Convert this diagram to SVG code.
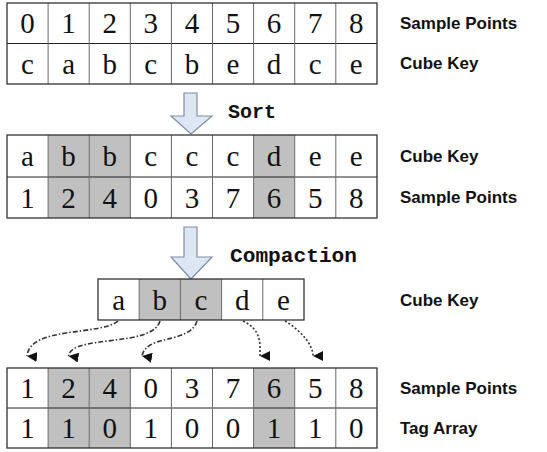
<svg xmlns="http://www.w3.org/2000/svg" width="547" height="452" viewBox="0 0 547 452">
  <style>
    .cell { fill: #ffffff; }
    .hl { fill: #c0c0c0; }
    .frame { fill: none; stroke: #222222; stroke-width: 1.2; }
    .vline { stroke: #6a6a6a; stroke-width: 1; }
    .hline { stroke: #222222; stroke-width: 1; }
    .val { font-family: "Liberation Serif", "Times New Roman", serif; font-size: 29px; fill: #111111; text-anchor: middle; }
    .label { font-family: "Liberation Sans", Arial, sans-serif; font-weight: bold; font-size: 17px; fill: #111111; }
    .step { font-family: "Liberation Mono", "Courier New", monospace; font-weight: bold; font-size: 20px; fill: #111111; }
    .bigarrow { fill: #dde7f3; stroke: #7f8ea3; stroke-width: 1.2; }
    .link { fill: none; stroke: #333333; stroke-width: 1.6; }
    .dashdot { stroke-dasharray: 5 2 1.5 2; }
    .dotted { stroke-dasharray: 2 2; }
  </style>
  <defs>
    <marker id="tip" viewBox="0 0 10 10" refX="5" refY="10" markerWidth="10" markerHeight="10" markerUnits="userSpaceOnUse" orient="auto-start-reverse">
      <path d="M0,0 L10,0 L5,10 Z" fill="#111111"/>
    </marker>
  </defs>

  <!-- original order: sample point index and cube key -->
  <g id="input-table">
    <rect class="cell" x="7" y="3" width="370" height="81"/>
    <line class="hline" x1="7" y1="43.5" x2="377" y2="43.5"/>
    <g>
      <line class="vline" x1="48.1" y1="3" x2="48.1" y2="84"/>
      <line class="vline" x1="89.2" y1="3" x2="89.2" y2="84"/>
      <line class="vline" x1="130.3" y1="3" x2="130.3" y2="84"/>
      <line class="vline" x1="171.4" y1="3" x2="171.4" y2="84"/>
      <line class="vline" x1="212.5" y1="3" x2="212.5" y2="84"/>
      <line class="vline" x1="253.6" y1="3" x2="253.6" y2="84"/>
      <line class="vline" x1="294.7" y1="3" x2="294.7" y2="84"/>
      <line class="vline" x1="335.8" y1="3" x2="335.8" y2="84"/>
    </g>
    <rect class="frame" x="7" y="3" width="370" height="81"/>
    <g class="val">
      <text x="27.5" y="33">0</text><text x="68.6" y="33">1</text><text x="109.7" y="33">2</text>
      <text x="150.8" y="33">3</text><text x="192" y="33">4</text><text x="233" y="33">5</text>
      <text x="274.1" y="33">6</text><text x="315.2" y="33">7</text><text x="356.3" y="33">8</text>
      <text x="27.5" y="73.5">c</text><text x="68.6" y="73.5">a</text><text x="109.7" y="73.5">b</text>
      <text x="150.8" y="73.5">c</text><text x="192" y="73.5">b</text><text x="233" y="73.5">e</text>
      <text x="274.1" y="73.5">d</text><text x="315.2" y="73.5">c</text><text x="356.3" y="73.5">e</text>
    </g>
    <text class="label" x="400" y="29">Sample Points</text>
    <text class="label" x="400" y="69">Cube Key</text>
  </g>

  <!-- sort step -->
  <g id="sort-step">
    <polygon class="bigarrow" points="184,93 197,93 197,116 212,116 191,134 171,116 184,116"/>
    <text class="step" x="228" y="118" textLength="48" lengthAdjust="spacingAndGlyphs">Sort</text>
  </g>

  <!-- sorted keys with their sample points -->
  <g id="sorted-table">
    <rect class="cell" x="7" y="135" width="370" height="83"/>
    <rect class="hl" x="48.1" y="135" width="82.2" height="83"/>
    <rect class="hl" x="253.6" y="135" width="41.1" height="83"/>
    <line class="hline" x1="7" y1="177" x2="377" y2="177"/>
    <g>
      <line class="vline" x1="48.1" y1="135" x2="48.1" y2="218"/>
      <line class="vline" x1="89.2" y1="135" x2="89.2" y2="218"/>
      <line class="vline" x1="130.3" y1="135" x2="130.3" y2="218"/>
      <line class="vline" x1="171.4" y1="135" x2="171.4" y2="218"/>
      <line class="vline" x1="212.5" y1="135" x2="212.5" y2="218"/>
      <line class="vline" x1="253.6" y1="135" x2="253.6" y2="218"/>
      <line class="vline" x1="294.7" y1="135" x2="294.7" y2="218"/>
      <line class="vline" x1="335.8" y1="135" x2="335.8" y2="218"/>
    </g>
    <rect class="frame" x="7" y="135" width="370" height="83"/>
    <g class="val">
      <text x="27.5" y="166">a</text><text x="68.6" y="166">b</text><text x="109.7" y="166">b</text>
      <text x="150.8" y="166">c</text><text x="192" y="166">c</text><text x="233" y="166">c</text>
      <text x="274.1" y="166">d</text><text x="315.2" y="166">e</text><text x="356.3" y="166">e</text>
      <text x="27.5" y="207.5">1</text><text x="68.6" y="207.5">2</text><text x="109.7" y="207.5">4</text>
      <text x="150.8" y="207.5">0</text><text x="192" y="207.5">3</text><text x="233" y="207.5">7</text>
      <text x="274.1" y="207.5">6</text><text x="315.2" y="207.5">5</text><text x="356.3" y="207.5">8</text>
    </g>
    <text class="label" x="400" y="162">Cube Key</text>
    <text class="label" x="400" y="203">Sample Points</text>
  </g>

  <!-- compaction step -->
  <g id="compaction-step">
    <polygon class="bigarrow" points="184,227 197,227 197,257 212,257 191,279 171,257 184,257"/>
    <text class="step" x="230" y="262" textLength="127" lengthAdjust="spacingAndGlyphs">Compaction</text>
  </g>

  <!-- unique cube keys -->
  <g id="unique-keys">
    <rect class="cell" x="98" y="279" width="206" height="41"/>
    <rect class="hl" x="139.2" y="279" width="82.4" height="41"/>
    <g>
      <line class="vline" x1="139.2" y1="279" x2="139.2" y2="320"/>
      <line class="vline" x1="180.4" y1="279" x2="180.4" y2="320"/>
      <line class="vline" x1="221.6" y1="279" x2="221.6" y2="320"/>
      <line class="vline" x1="262.8" y1="279" x2="262.8" y2="320"/>
    </g>
    <rect class="frame" x="98" y="279" width="206" height="41"/>
    <g class="val">
      <text x="118.6" y="309.5">a</text><text x="159.8" y="309.5">b</text><text x="201" y="309.5">c</text>
      <text x="242.2" y="309.5">d</text><text x="283.4" y="309.5">e</text>
    </g>
    <text class="label" x="400" y="306">Cube Key</text>
  </g>

  <!-- key-to-first-occurrence links -->
  <g id="connectors">
    <path class="link dashdot" d="M118,321 C100,336 30,326 27,356" marker-end="url(#tip)"/>
    <path class="link dashdot" d="M160,321 C152,348 72,334 68.5,356" marker-end="url(#tip)"/>
    <path class="link dashdot" d="M197,321 C190,344 146,334 142,356" marker-end="url(#tip)"/>
    <path class="link dotted" d="M243,321 C262,330 260,344 260,356" marker-end="url(#tip)"/>
    <path class="link dotted" d="M285,321 C300,330 313,344 313,356" marker-end="url(#tip)"/>
  </g>

  <!-- sample points with segment-start tags -->
  <g id="tag-table">
    <rect class="cell" x="7" y="368" width="370" height="80"/>
    <rect class="hl" x="48.1" y="368" width="82.2" height="80"/>
    <rect class="hl" x="253.6" y="368" width="41.1" height="80"/>
    <line class="hline" x1="7" y1="408" x2="377" y2="408"/>
    <g>
      <line class="vline" x1="48.1" y1="368" x2="48.1" y2="448"/>
      <line class="vline" x1="89.2" y1="368" x2="89.2" y2="448"/>
      <line class="vline" x1="130.3" y1="368" x2="130.3" y2="448"/>
      <line class="vline" x1="171.4" y1="368" x2="171.4" y2="448"/>
      <line class="vline" x1="212.5" y1="368" x2="212.5" y2="448"/>
      <line class="vline" x1="253.6" y1="368" x2="253.6" y2="448"/>
      <line class="vline" x1="294.7" y1="368" x2="294.7" y2="448"/>
      <line class="vline" x1="335.8" y1="368" x2="335.8" y2="448"/>
    </g>
    <rect class="frame" x="7" y="368" width="370" height="80"/>
    <g class="val">
      <text x="27.5" y="398">1</text><text x="68.6" y="398">2</text><text x="109.7" y="398">4</text>
      <text x="150.8" y="398">0</text><text x="192" y="398">3</text><text x="233" y="398">7</text>
      <text x="274.1" y="398">6</text><text x="315.2" y="398">5</text><text x="356.3" y="398">8</text>
      <text x="27.5" y="438">1</text><text x="68.6" y="438">1</text><text x="109.7" y="438">0</text>
      <text x="150.8" y="438">1</text><text x="192" y="438">0</text><text x="233" y="438">0</text>
      <text x="274.1" y="438">1</text><text x="315.2" y="438">1</text><text x="356.3" y="438">0</text>
    </g>
    <text class="label" x="400" y="394">Sample Points</text>
    <text class="label" x="400" y="434">Tag Array</text>
  </g>
</svg>
